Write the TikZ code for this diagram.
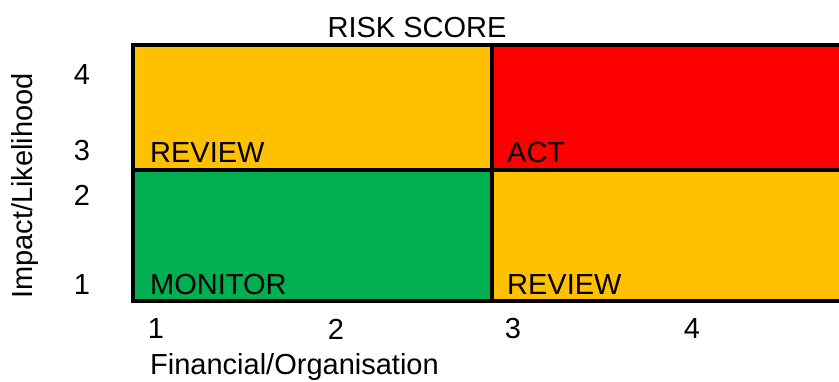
\documentclass[tikz,border=0pt]{standalone}
\usepackage{fontspec}
\setmainfont{Liberation Sans}
\usepackage{tikz}
\usetikzlibrary{positioning}

\definecolor{riskamber}{HTML}{FFC000}
\definecolor{riskred}{HTML}{FF0000}
\definecolor{riskgreen}{HTML}{00B050}

\begin{document}
\begin{tikzpicture}[x=1pt, y=-1pt,
				cell/.style={rectangle, draw=black, line width=3.2pt, anchor=north west, inner sep=0pt, outer sep=0pt, minimum width=359pt},
				tag/.style={anchor=base west, inner sep=0pt, font=\fontsize{29}{34}\selectfont},
				axis/.style={anchor=center, inner sep=0pt, font=\fontsize{29}{34}\selectfont}]
				
				\useasboundingbox (0,0) rectangle (839,382);
				\clip (0,0) rectangle (839,382);
				
				% the four quadrants
				\node[cell, fill=riskamber, minimum height=125pt] (topleft) at (133,45) {};
				\node[cell, fill=riskred, minimum height=125pt] (topright) at (492,45) {};
				\node[cell, fill=riskgreen, minimum height=131pt] (botleft) at (133,170) {};
				\node[cell, fill=riskamber, minimum height=131pt] (botright) at (492,170) {};
				
				\node[tag] (review1) at ([shift={(17pt,7pt)}]topleft.south west) {REVIEW};
				\node[tag] (act) at ([shift={(15pt,7pt)}]topright.south west) {ACT};
				\node[tag] (monitor) at ([shift={(17pt,6pt)}]botleft.south west) {MONITOR};
				\node[tag] (review2) at ([shift={(15pt,6pt)}]botright.south west) {REVIEW};
				
				% heading and axes
				\node[axis, anchor=base] (title) at (417,38) {RISK SCORE};
				\node[axis, rotate=90] (ylabel) at (25,186) {Impact/Likelihood};
				\node[axis, anchor=west] (xlabel) at (150,367) {Financial/Organisation};
				
				\node[axis] (y4) at (82,75) {4};
				\node[axis] (y3) at (82,151) {3};
				\node[axis] (y2) at (82,195) {2};
				\node[axis] (y1) at (82,285) {1};
				
				\node[axis] (x1) at (156,329) {1};
				\node[axis] (x2) at (336,329) {2};
				\node[axis] (x3) at (513,329) {3};
				\node[axis] (x4) at (692,329) {4};
				
			\end{tikzpicture}
\end{document}
